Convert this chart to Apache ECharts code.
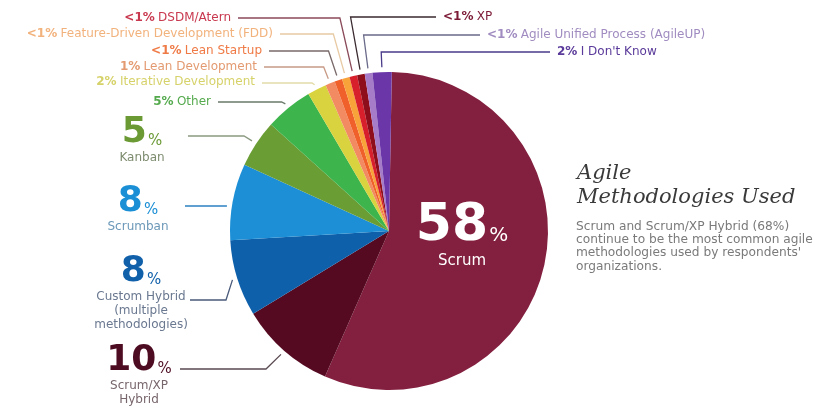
<!DOCTYPE html>
<html><head><meta charset="utf-8">
<script src="https://cdn.jsdelivr.net/npm/echarts/dist/echarts.min.js"></script>
<style>html,body{margin:0;padding:0;background:#fff}#c{width:815px;height:412px}</style>
</head><body><div id="c"></div>
<script>
// ---- data ----
const names = ['Scrum','Scrum/XP Hybrid','Custom Hybrid (multiple methodologies)','Scrumban','Kanban','Other',
  'Iterative Development','Lean Development','Lean Startup','Feature-Driven Development (FDD)','DSDM/Atern','XP',
  'Agile Unified Process (AgileUP)',"I Don't Know"];
const labelNames = ['Scrum','Scrum/XP\nHybrid','Custom Hybrid\n(multiple\nmethodologies)','Scrumban','Kanban','Other',
  'Iterative Development','Lean Development','Lean Startup','Feature-Driven Development (FDD)','DSDM/Atern','XP',
  'Agile Unified Process (AgileUP)',"I Don't Know"];
// "<1%" slices estimated at 0.8 from their drawn width
const values = [58,10,8,8,5,5,2,1,0.8,0.8,0.8,0.8,0.8,2];
const pctLabels = ['58%','10%','8%','8%','5%','5%','2%','1%','<1%','<1%','<1%','<1%','<1%','2%'];

// ---- styles ----
const sliceColors = ['#84203f','#560a22','#0f60aa','#1d8fd6','#6a9e35','#3db54c','#d8d33e','#f28b62','#f0602a',
  '#f8a23a','#d7202c','#8e0e1c','#a67cc8','#6a36a8'];
const textColors = ['#ffffff','#4e0c22','#1060aa','#1a8fd5','#6b9a35','#55aa4e','#d6d26a','#e39a70','#ef7a45',
  '#f2b27c','#c8384e','#7c1a36','#a08cc0','#5a3a9a'];
const nameColors = ['#ffffff','#77666c','#6a7890','#6b98b8','#7d8c6e'];
const lineColors = ['#000','#5a4a52','#4a5a7a','#2a80c0','#8a9a80','#6a7a6a','#e2dba8','#c89a86','#7a6a6a',
  '#e8caa4','#8a4a5a','#3a2a30','#6a6a8a','#4a3a8a'];
const labelCfg = [
  {x:462, y:234, align:'center', va:'middle'},
  {x:139, y:341, align:'center', va:'top', lineY:369, lineX0:180, elbow:266},
  {x:141, y:252, align:'center', va:'top', lineY:300, lineX0:190, elbow:226},
  {x:138, y:182, align:'center', va:'top', lineY:206, lineX0:185, elbow:'flat'},
  {x:142, y:113, align:'center', va:'top', lineY:136, lineX0:188, elbow:244},
  {x:211, y:102, align:'right', va:'middle', lineY:102, elbow:'radial'},
  {x:255, y:82, align:'right', va:'middle', lineY:83, elbow:'radial'},
  {x:257, y:67, align:'right', va:'middle', lineY:67, elbow:'radial'},
  {x:262, y:51, align:'right', va:'middle', lineY:51, elbow:'radial'},
  {x:273, y:34, align:'right', va:'middle', lineY:34, elbow:'radial'},
  {x:231, y:18, align:'right', va:'middle', lineY:18, elbow:'radial'},
  {x:443, y:17, align:'left', va:'middle', lineY:17, elbow:'radial'},
  {x:487, y:35, align:'left', va:'middle', lineY:35, elbow:'radial'},
  {x:557, y:52, align:'left', va:'middle', lineY:52, elbow:'radial'}
];
const CX = 389, CY = 231, R = 159, EDGE = 5, GAP = 7;
const FONT = 'DejaVu Sans';

function labelFor(i) {
  const pct = pctLabels[i];
  if (i <= 4) {
    const num = pct.replace('%','');
    const big = i === 0 ? 52 : 36;
    const lines = labelNames[i].split('\n').map(s => '{nm|' + s + '}').join('\n');
    return {
      formatter: '{big|' + num + '}{pc|%}\n' + lines,
      rich: {
        big: {fontFamily: FONT, fontWeight: 'bold', fontSize: big, lineHeight: big + 2, color: textColors[i], verticalAlign:'bottom'},
        pc: {fontFamily: FONT, fontSize: i === 0 ? 20 : 15, color: textColors[i], verticalAlign:'bottom', padding:[0,0,i===0?6:2,1]},
        nm: {fontFamily: FONT, fontSize: i === 0 ? 15 : 12, lineHeight: i === 0 ? 18 : 14, color: nameColors[i]}
      }
    };
  }
  return {
    formatter: '{p|' + pct + '} {n|' + labelNames[i] + '}',
    rich: {
      p: {fontFamily: FONT, fontWeight: 'bold', fontSize: 12, color: textColors[i]},
      n: {fontFamily: FONT, fontSize: 12, color: textColors[i]}
    }
  };
}

const data = names.map((n, i) => ({
  name: n,
  value: values[i],
  itemStyle: {color: sliceColors[i]},
  label: Object.assign({show: true, position: i === 0 ? 'inside' : 'outside'}, labelFor(i)),
  labelLine: {show: i !== 0, lineStyle: {color: lineColors[i], width: 1.3}}
}));

const chart = echarts.init(document.getElementById('c'), null, {renderer: 'canvas'});
chart.setOption({
  animation: false,
  backgroundColor: '#ffffff',
  title: [
    {text: 'Agile\nMethodologies Used', left: 572, top: 157,
     textStyle: {fontFamily: 'DejaVu Serif', fontStyle: 'italic', fontWeight: 'normal', fontSize: 21, lineHeight: 24, color: '#3a3a3a'}},
    {text: "Scrum and Scrum/XP Hybrid (68%)\ncontinue to be the most common agile\nmethodologies used by respondents'\norganizations.",
     left: 571, top: 215,
     textStyle: {fontFamily: FONT, fontWeight: 'normal', fontSize: 12.2, lineHeight: 13.3, color: '#7a7a7a'}}
  ],
  series: [{
    type: 'pie',
    center: [CX, CY],
    radius: [0, R],
    startAngle: 89,
    clockwise: true,
    avoidLabelOverlap: false,
    emphasis: {disabled: true},
    data: data,
    labelLayout: function (p) {
      const L = labelCfg[p.dataIndex];
      const res = {x: L.x, y: L.y, align: L.align, verticalAlign: L.va};
      if (L.lineY == null) return res;
      const pts = p.labelLinePoints;
      if (!pts || !pts.length) return res;
      let ux = pts[0][0] - CX, uy = pts[0][1] - CY;
      const d = Math.hypot(ux, uy) || 1; ux /= d; uy /= d;
      const x0 = L.lineX0 != null ? L.lineX0 : (L.align === 'right' ? L.x + GAP : L.x - GAP);
      let linePts;
      if (L.elbow === 'flat') {
        const ex = CX - Math.sqrt((R + EDGE) * (R + EDGE) - (L.lineY - CY) * (L.lineY - CY));
        linePts = [[ex, L.lineY], [x0, L.lineY]];
      } else {
        const end = [CX + ux * (R + EDGE), CY + uy * (R + EDGE)];
        let ex;
        if (L.elbow === 'radial') {
          let t = (L.lineY - CY) / uy;
          t = Math.max(t, R + EDGE + 6);
          ex = CX + ux * t;
        } else ex = L.elbow;
        linePts = [end, [ex, L.lineY], [x0, L.lineY]];
      }
      res.labelLinePoints = linePts;
      return res;
    }
  }]
});
</script></body></html>
